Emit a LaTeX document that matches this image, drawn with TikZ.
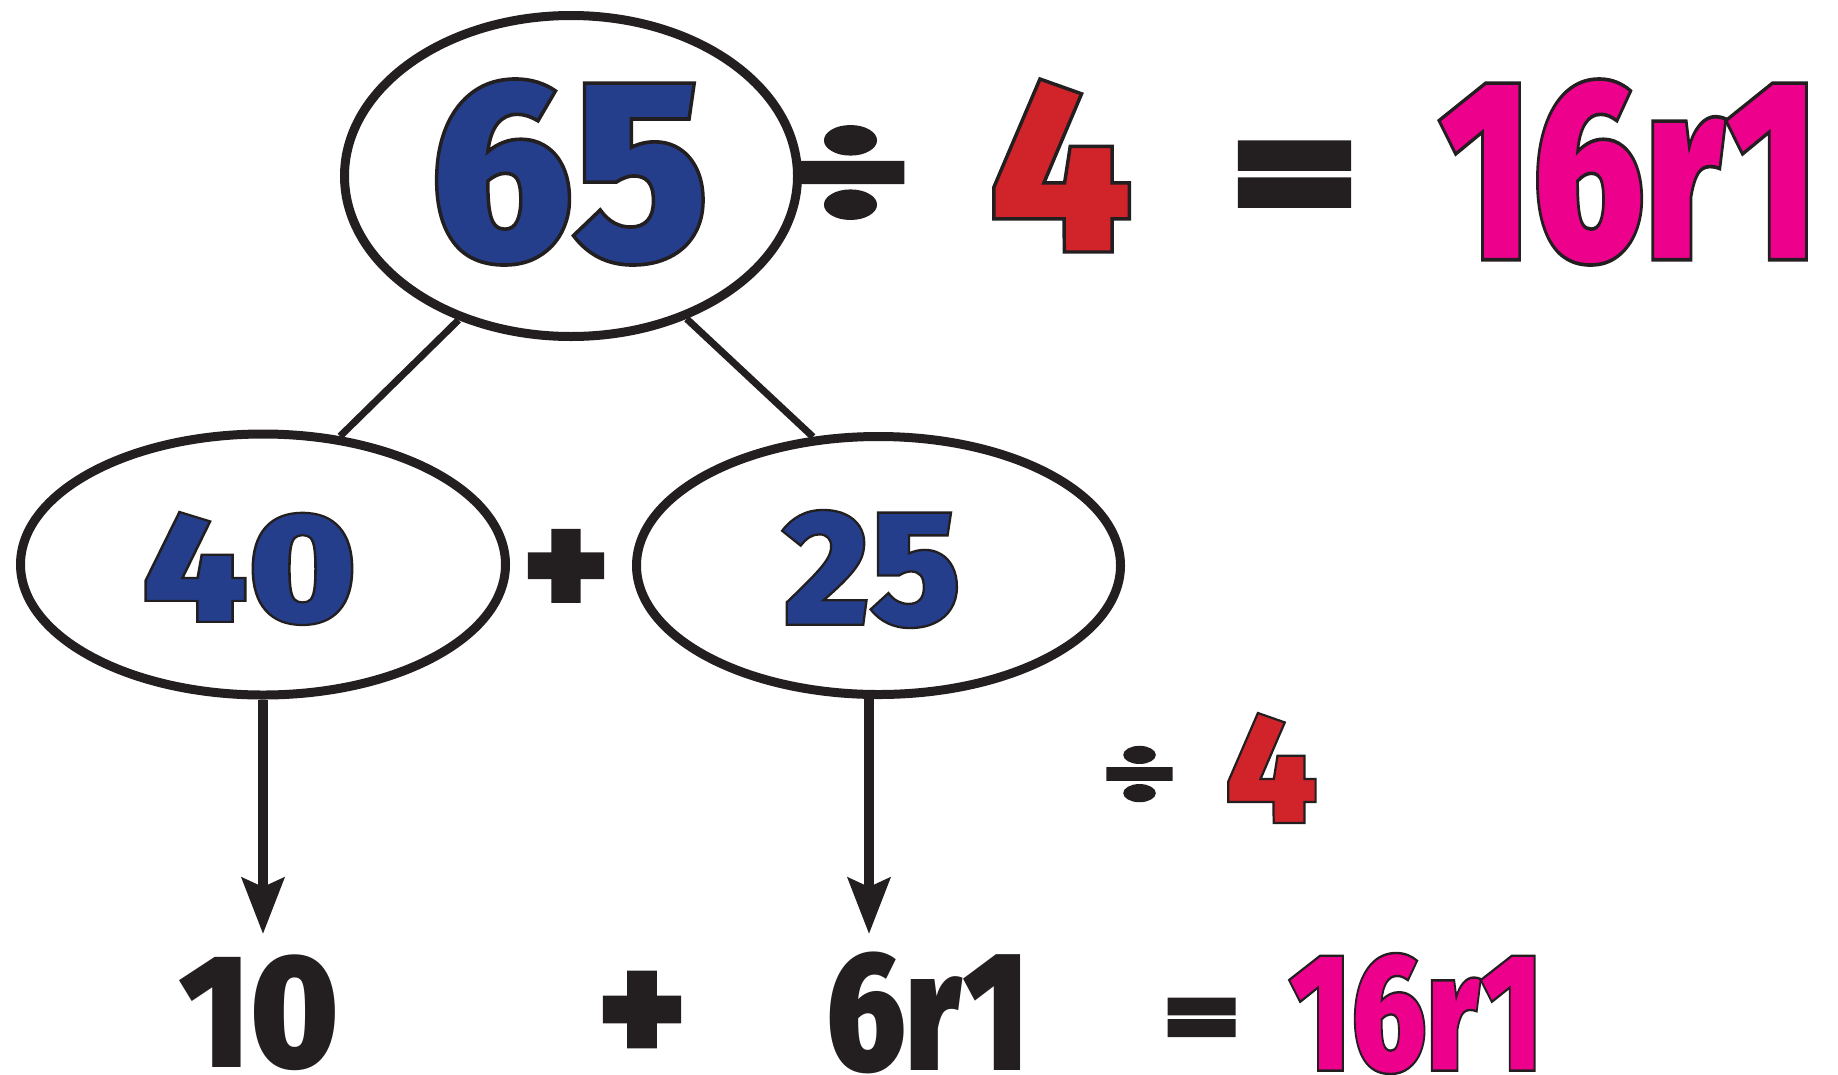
\documentclass[tikz,border=0pt]{standalone}
\usepackage{fontspec}
\usepackage{graphicx}
\usetikzlibrary{arrows.meta,shapes.geometric}
\newfontfamily\heavyo{Fira Sans Black}[RawFeature={embolden=1.4}]
\newfontfamily\heavyop{Fira Sans Black}[RawFeature={embolden=3}]
\newfontfamily\heavy{Fira Sans Black}
\definecolor{ink}{HTML}{231F20}
\definecolor{numblue}{HTML}{243E8C}
\definecolor{numred}{HTML}{D1232A}
\definecolor{numpink}{HTML}{EC008C}
\newcommand\inkstroke{\special{pdf:code 0.137 0.122 0.125 RG}}
% colour, width, height, text (filled colour, dark outline)
\newcommand\fitnum[4]{\resizebox*{#2pt}{#3pt}{\fontsize{\dimexpr #3pt*145/100\relax}{0pt}\selectfont\heavyo\color{#1}\inkstroke #4}}
% plain black number
\newcommand\fitplain[3]{\resizebox*{#1pt}{#2pt}{\fontsize{\dimexpr #2pt*145/100\relax}{0pt}\selectfont\heavy\color{ink}#3}}
% heavy black operator
\newcommand\fitop[3]{\resizebox*{#1pt}{#2pt}{\fontsize{\dimexpr #2pt*145/100\relax}{0pt}\selectfont\heavyop\color{ink}#3}}
\tikzset{
  bubble/.style={draw=ink, line width=9pt, ellipse, inner sep=0pt, fill=white},
  conn/.style={draw=ink, line width=7pt},
  arr/.style={draw=ink, line width=10pt, -{Stealth[length=56pt,width=42pt,inset=9pt]}},
  txt/.style={inner sep=0pt, outer sep=0pt}
}
\begin{document}
\begin{tikzpicture}[x=1pt,y=-1pt]
\useasboundingbox (0,0) rectangle (1838,1074);
% ellipses
\node[bubble, minimum width=453pt, minimum height=321pt] (top) at (571,176) {};
\node[bubble, minimum width=485pt, minimum height=261pt] (left) at (263,564.5) {};
\node[bubble, minimum width=484pt, minimum height=258pt] (right) at (878.5,565.5) {};
% connectors
\draw[conn] (top.232) -- (left.59);
\draw[conn] (top.309.6) -- (right.117.7);
\coordinate (tipL) at (263,934);
\coordinate (tipR) at (869,934);
\draw[arr] (left.south) -- (tipL);
\draw[arr] (tipR |- right.south) -- (tipR);
% top row
\node[txt] (n65) at (569.5,172) {\fitnum{numblue}{279}{186}{65}};
\node[txt] (div1) at (850.5,172.5) {\fitop{119}{91}{÷}};
\node[txt] (four1) at (1061,165.5) {\fitnum{numred}{144}{173}{4}};
\node[txt] (eq1) at (1294.5,186.5) {\fitop{125}{87}{=}};
\node[txt] (res1) at (1629,172) {\fitnum{numpink}{380}{186}{16r1}};
% middle row
\node[txt] (n40) at (249.5,568.5) {\fitnum{numblue}{215}{113}{40}};
\node[txt] (plus1) at (566,573) {\fitop{84}{84}{+}};
\node[txt] (n25) at (872,569) {\fitnum{numblue}{178}{118}{25}};
\node[txt] (div2) at (1139.5,774) {\fitop{73}{54}{÷}};
\node[txt] (four2) at (1271.5,768) {\fitnum{numred}{93}{110}{4}};
% bottom row
\node[txt] (n10) at (259,1013) {\fitplain{160}{116}{10}};
\node[txt] (plus2) at (642,1017) {\fitop{86}{88}{+}};
\node[txt] (n6r1) at (927.5,1013) {\fitplain{203}{122}{6r1}};
\node[txt] (eq2) at (1201.5,1024.5) {\fitop{75}{51}{=}};
\node[txt] (res2) at (1416,1013.5) {\fitnum{numpink}{254}{121}{16r1}};
\end{tikzpicture}
\end{document}
